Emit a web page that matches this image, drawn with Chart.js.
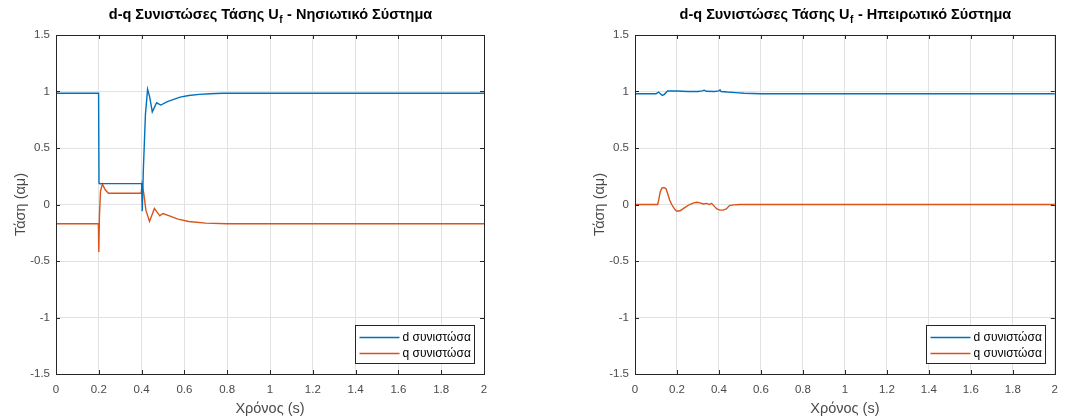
<!DOCTYPE html>
<html>
<head>
<meta charset="utf-8">
<script src="https://cdn.jsdelivr.net/npm/chart.js@4.4.1/dist/chart.umd.min.js"></script>
<style>
  html, body { margin: 0; padding: 0; background: #fff; }
  #wrap { position: relative; width: 1067px; height: 419px; overflow: hidden; }
  .box { position: absolute; top: 0; height: 419px; }
  canvas { display: block; }
</style>
</head>
<body>
<div id="wrap">
  <div class="box" style="left:0;width:533px"><canvas id="c1" width="533" height="419"></canvas></div>
  <div class="box" style="left:533px;width:534px"><canvas id="c2" width="534" height="419"></canvas></div>
</div>
<script>
// ---------- DATA ----------
const titleLeft = ['d-q Συνιστώσες Τάσης U', 'f', ' - Νησιωτικό Σύστημα'];
const titleRight = ['d-q Συνιστώσες Τάσης U', 'f', ' - Ηπειρωτικό Σύστημα'];
const xAxisTitle = 'Χρόνος (s)';
const yAxisTitle = 'Τάση (αμ)';
const seriesNames = ['d συνιστώσα', 'q συνιστώσα'];
const xTicks = [0, 0.2, 0.4, 0.6, 0.8, 1, 1.2, 1.4, 1.6, 1.8, 2];
const yTicks = [-1.5, -1, -0.5, 0, 0.5, 1, 1.5];

// Islanded system (left)
const tLeftD = [0, 0.05, 0.1, 0.15, 0.199, 0.201, 0.205, 0.25, 0.3, 0.35, 0.4, 0.403, 0.408, 0.418, 0.428, 0.438, 0.45, 0.47, 0.49, 0.52, 0.55, 0.58, 0.62, 0.67, 0.72, 0.78, 0.85, 1.0, 1.2, 1.4, 1.6, 1.8, 2.0];
const dLeft  = [0.985, 0.985, 0.985, 0.985, 0.985, 0.19, 0.185, 0.185, 0.185, 0.185, 0.185, -0.06, 0.3, 0.8, 1.02, 0.95, 0.82, 0.9, 0.88, 0.91, 0.93, 0.95, 0.965, 0.975, 0.98, 0.985, 0.985, 0.985, 0.985, 0.985, 0.985, 0.985, 0.985];
const tLeftQ = [0, 0.1, 0.198, 0.2, 0.203, 0.208, 0.217, 0.23, 0.245, 0.3, 0.35, 0.398, 0.402, 0.41, 0.42, 0.437, 0.46, 0.485, 0.5, 0.53, 0.57, 0.62, 0.7, 0.8, 1.0, 1.5, 2.0];
const qLeft  = [-0.17, -0.17, -0.17, -0.42, -0.1, 0.12, 0.18, 0.13, 0.1, 0.1, 0.1, 0.1, 0.18, 0.1, -0.05, -0.15, -0.035, -0.1, -0.08, -0.1, -0.13, -0.15, -0.165, -0.17, -0.17, -0.17, -0.17];

// Mainland system (right)
const tRightD = [0, 0.05, 0.1, 0.112, 0.118, 0.13, 0.14, 0.155, 0.2, 0.25, 0.3, 0.32, 0.33, 0.34, 0.38, 0.4, 0.405, 0.41, 0.44, 0.48, 0.52, 0.56, 0.6, 0.8, 1.0, 1.5, 2.0];
const dRight  = [0.98, 0.98, 0.98, 0.995, 0.985, 0.965, 0.975, 1.005, 1.005, 1.0, 1.0, 1.005, 1.012, 1.002, 1.0, 1.005, 1.015, 1.0, 0.995, 0.99, 0.985, 0.982, 0.98, 0.98, 0.98, 0.98, 0.98];
const tRightQ = [0, 0.108, 0.113, 0.12, 0.128, 0.138, 0.148, 0.155, 0.165, 0.175, 0.19, 0.2, 0.215, 0.235, 0.26, 0.28, 0.295, 0.31, 0.325, 0.34, 0.355, 0.365, 0.375, 0.39, 0.405, 0.42, 0.435, 0.45, 0.47, 0.5, 0.6, 2.0];
const qRight  = [0, 0, 0.04, 0.11, 0.145, 0.15, 0.14, 0.1, 0.04, 0, -0.045, -0.06, -0.055, -0.03, 0.0, 0.015, 0.02, 0.015, 0.005, 0.01, 0.0, 0.01, -0.01, -0.04, -0.05, -0.05, -0.04, -0.01, -0.003, 0, 0, 0];

// ---------- STYLE ----------
const FONT = "'Liberation Sans', Arial, Helvetica, sans-serif";
const colD = '#0072BD';
const colQ = '#D95319';
const axisCol = '#262626';
const textCol = '#4a4a4a';
const gridCol = '#e2e2e2';

function pts(t, v) { return t.map((x, i) => ({ x: x, y: v[i] })); }
function fmt(v) { return String(Number(v.toFixed(2))); }

const framePlugin = {
  id: 'frame',
  afterDraw(chart, args, opts) {
    const ctx = chart.ctx, a = chart.chartArea;
    const xs = chart.scales.x, ys = chart.scales.y;
    ctx.save();
    ctx.strokeStyle = axisCol;
    ctx.lineWidth = 1;
    // inward tick marks
    ctx.beginPath();
    const L = 4;
    xTicks.forEach(v => {
      const px = Math.round(xs.getPixelForValue(v)) + 0.5;
      ctx.moveTo(px, a.bottom); ctx.lineTo(px, a.bottom - L);
      ctx.moveTo(px, a.top); ctx.lineTo(px, a.top + L);
    });
    yTicks.forEach(v => {
      const py = Math.round(ys.getPixelForValue(v)) + 0.5;
      ctx.moveTo(a.left, py); ctx.lineTo(a.left + L, py);
      ctx.moveTo(a.right, py); ctx.lineTo(a.right - L, py);
    });
    ctx.stroke();
    ctx.strokeRect(Math.round(a.left) + 0.5, Math.round(a.top) + 0.5, Math.round(a.right - a.left), Math.round(a.bottom - a.top));

    // legend box (inside, lower right)
    const w = 119, h = 38;
    const lx = Math.round(a.right - 10 - w) + 0.5, ly = Math.round(a.bottom - 11 - h) + 0.5;
    ctx.fillStyle = '#fff';
    ctx.fillRect(lx, ly, w, h);
    ctx.strokeStyle = axisCol;
    ctx.strokeRect(lx, ly, w, h);
    ctx.font = '12px ' + FONT;
    ctx.textBaseline = 'middle';
    ctx.textAlign = 'left';
    chart.data.datasets.forEach((ds, i) => {
      const yy = ly + 12 + i * 16;
      ctx.strokeStyle = ds.borderColor;
      ctx.lineWidth = 1.3;
      ctx.beginPath();
      ctx.moveTo(lx + 4, yy); ctx.lineTo(lx + 44, yy);
      ctx.stroke();
      ctx.fillStyle = '#000';
      ctx.fillText(ds.label, lx + 47, yy);
    });

    // title with subscript
    const parts = opts.title;
    const big = 'bold 14.5px ' + FONT, small = 'bold 10px ' + FONT;
    ctx.font = big; const w0 = ctx.measureText(parts[0]).width;
    ctx.font = small; const w1 = ctx.measureText(parts[1]).width;
    ctx.font = big; const w2 = ctx.measureText(parts[2]).width;
    const total = w0 + w1 + w2;
    let x = (a.left + a.right) / 2 - total / 2;
    const y = 15;
    ctx.fillStyle = '#000';
    ctx.textBaseline = 'middle';
    ctx.font = big; ctx.fillText(parts[0], x, y); x += w0;
    ctx.font = small; ctx.fillText(parts[1], x + 0.5, y + 5); x += w1 + 1;
    ctx.font = big; ctx.fillText(parts[2], x, y);
    ctx.restore();
  }
};

function makeChart(id, title, tD, vD, tQ, vQ, padLeft, padRight) {
  return new Chart(document.getElementById(id), {
    type: 'line',
    data: {
      datasets: [
        { label: seriesNames[0], data: pts(tD, vD), borderColor: colD, borderWidth: 1.4, pointRadius: 0, tension: 0, fill: false },
        { label: seriesNames[1], data: pts(tQ, vQ), borderColor: colQ, borderWidth: 1.4, pointRadius: 0, tension: 0, fill: false }
      ]
    },
    options: {
      responsive: false,
      animation: false,
      devicePixelRatio: 1,
      parsing: true,
      layout: { padding: { left: padLeft, right: padRight, top: 35, bottom: 0 } },
      plugins: {
        legend: { display: false },
        title: { display: false },
        tooltip: { enabled: false },
        frame: { title: title }
      },
      scales: {
        x: {
          type: 'linear', min: 0, max: 2,
          afterBuildTicks: s => { s.ticks = xTicks.map(v => ({ value: v })); },
          afterFit: s => { s.height = 45; },
          grid: { color: gridCol, drawTicks: false, lineWidth: 1 },
          border: { display: false },
          ticks: { color: textCol, font: { family: FONT, size: 11.5 }, padding: 9, maxRotation: 0, autoSkip: false, callback: v => fmt(v) },
          title: { display: true, text: xAxisTitle, color: textCol, font: { family: FONT, size: 14.5 }, padding: { top: 0, bottom: 1 } }
        },
        y: {
          type: 'linear', min: -1.5, max: 1.5,
          afterBuildTicks: s => { s.ticks = yTicks.map(v => ({ value: v })); },
          afterFit: s => { s.width = 56; },
          grid: { color: gridCol, drawTicks: false, lineWidth: 1 },
          border: { display: false },
          ticks: { color: textCol, font: { family: FONT, size: 11.5 }, padding: 6, autoSkip: false, callback: v => fmt(v) },
          title: { display: true, text: yAxisTitle, color: textCol, font: { family: FONT, size: 14.5 }, padding: { top: 12, bottom: 0 } }
        }
      }
    },
    plugins: [framePlugin]
  });
}

makeChart('c1', titleLeft, tLeftD, dLeft, tLeftQ, qLeft, 0, 533 - 484);
makeChart('c2', titleRight, tRightD, dRight, tRightQ, qRight, 635 - 533 - 56, 534 - (1063 - 533));
</script>
</body>
</html>
